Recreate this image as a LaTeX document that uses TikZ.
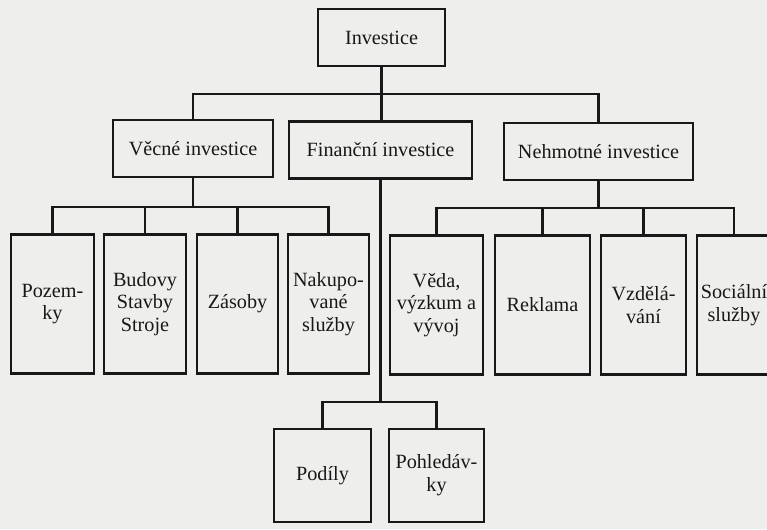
\documentclass[tikz,border=0pt]{standalone}
\usepackage{fontspec}
\setmainfont{Liberation Serif}
\usepackage{xcolor}
\usetikzlibrary{positioning, calc}
\definecolor{scanBg}{RGB}{238, 238, 236}
\definecolor{inkDark}{RGB}{24, 24, 24}

\begin{document}
\begin{tikzpicture}[
        x=0.02cm, y=-0.02cm,
        font=\fontsize{11.5}{13}\selectfont\color{inkDark},
        box/.style={rectangle, draw=inkDark, line width=1.5pt, align=center,
            inner sep=1pt, fill=scanBg},
        head/.style={box, minimum height=1.14cm},
        leaf/.style={box, minimum height=2.78cm},
        part/.style={box, minimum height=1.86cm},
        wire/.style={line width=1.4pt, draw=inkDark}
    ]
    \fill[scanBg] (0,0) rectangle (767,529);
    \useasboundingbox (0,0) rectangle (767,529);

    \node[head, minimum width=2.54cm] (inv) at (381.5,37.5) {Investice};
    \node[head, minimum width=3.2cm] (vec) at (193,148.5) {Věcné investice};
    \node[head, minimum width=3.66cm] (fin) at (380.5,150) {Finanční investice};
    \node[head, minimum width=3.78cm] (neh) at (598.5,151.5) {Nehmotné investice};

    \node[leaf, minimum width=1.66cm] (poz) at (52.5,304) {Pozem-\\ky};
    \node[leaf, minimum width=1.64cm] (bud) at (145,304) {Budovy\\Stavby\\Stroje};
    \node[leaf, minimum width=1.62cm] (zas) at (237.5,304) {Zásoby};
    \node[leaf, minimum width=1.62cm] (nak) at (328.5,304) {Nakupo-\\vané\\služby};
    \node[leaf, minimum width=1.86cm] (ved) at (436.5,305) {Věda,\\výzkum a\\vývoj};
    \node[leaf, minimum width=1.9cm] (rek) at (542.5,305) {Reklama};
    \node[leaf, minimum width=1.7cm] (vzd) at (643.5,305) {Vzdělá-\\vání};
    \node[leaf, minimum width=1.48cm] (soc) at (734,305) {Sociální\\služby};

    \node[part, minimum width=1.94cm] (pod) at (322.5,475.5) {Podíly};
    \node[part, minimum width=1.9cm] (poh) at (436.5,475.5) {Pohledáv-\\ky};

    \coordinate (b1) at (381,94);
    \coordinate (b2) at (193,207);
    \coordinate (b3) at (598.5,208);
    \coordinate (b4) at (380.5,402);

    \draw[wire] (inv.south) -- (inv.south |- fin.north);
    \draw[wire] (vec.north) |- (b1) -| (neh.north);

    \draw[wire] (vec.south) -- (b2);
    \draw[wire] (poz.north) |- (b2) -| (nak.north);
    \foreach \n in {bud, zas}
        \draw[wire] (\n.north) -- (\n.north |- b2);

    \draw[wire] (neh.south) -- (b3);
    \draw[wire] (ved.north) |- (b3) -| (soc.north);
    \foreach \n in {rek, vzd}
        \draw[wire] (\n.north) -- (\n.north |- b3);

    \draw[wire] (fin.south) -- (b4);
    \draw[wire] (pod.north) |- (b4) -| (poh.north);
\end{tikzpicture}
\end{document}
